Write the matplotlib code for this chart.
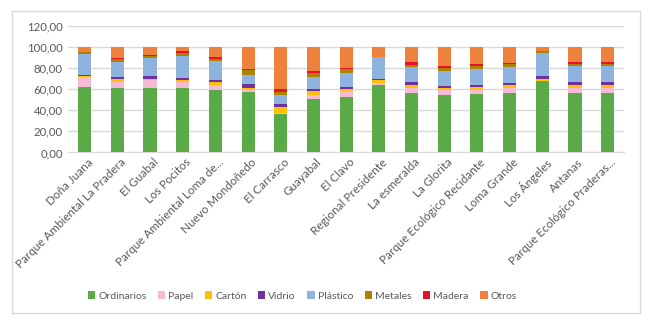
import numpy as np
import matplotlib
matplotlib.use("Agg")
import matplotlib.pyplot as plt
from matplotlib.patches import Rectangle

plt.rcParams['font.family'] = ['Lato', 'DejaVu Sans']

sitios = ['Doña Juana', 'Parque Ambiental La Pradera', 'El Guabal', 'Los Pocitos',
          'Parque Ambiental Loma de...', 'Nuevo Mondoñedo', 'El Carrasco', 'Guayabal',
          'El Clavo', 'Regional Presidente', 'La esmeralda', 'La Glorita',
          'Parque Ecológico Recidante', 'Loma Grande', 'Los Ángeles', 'Antanas',
          'Parque Ecológico Praderas...']

ordinarios = [62.0, 61.0, 61.2, 60.9, 59.3, 57.7, 36.2, 51.0, 52.9, 64.4, 56.7, 54.8, 55.4, 56.1, 67.6, 56.7, 56.7]
papel      = [9.5, 6.4, 8.0, 6.1, 5.1, 1.9, 1.6, 3.8, 5.1, 1.6, 4.8, 4.2, 4.2, 5.1, 0.7, 4.8, 4.8]
carton     = [1.0, 2.3, 1.0, 2.2, 2.3, 1.9, 5.8, 3.2, 2.6, 3.2, 2.6, 2.2, 2.6, 2.6, 1.9, 2.6, 2.6]
vidrio     = [1.2, 2.5, 2.6, 2.0, 2.5, 3.6, 2.2, 1.9, 1.9, 0.7, 2.6, 2.3, 2.2, 2.5, 2.2, 2.9, 2.9]
plastico   = [20.0, 14.0, 16.9, 20.5, 17.7, 8.9, 9.0, 12.2, 13.5, 20.8, 14.7, 14.4, 15.4, 14.8, 22.5, 15.4, 15.4]
metales    = [1.8, 2.3, 1.6, 2.9, 1.9, 4.8, 2.9, 3.5, 3.2, 0.3, 1.9, 2.9, 2.3, 2.6, 1.6, 1.9, 1.9]
madera     = [0.2, 1.2, 1.3, 1.9, 1.6, 0.2, 2.6, 1.6, 1.2, 0.0, 2.6, 1.6, 1.9, 1.6, 0.0, 1.6, 1.6]
otros      = [4.3, 10.3, 7.4, 3.5, 9.6, 21.0, 39.7, 22.8, 19.6, 9.0, 14.1, 17.6, 16.0, 14.7, 3.5, 14.1, 14.1]

series = [('Ordinarios', ordinarios, '#5aab47'),
          ('Papel', papel, '#f4bad6'),
          ('Cartón', carton, '#ffc000'),
          ('Vidrio', vidrio, '#7030a0'),
          ('Plástico', plastico, '#8eb3de'),
          ('Metales', metales, '#ad8200'),
          ('Madera', madera, '#e8102a'),
          ('Otros', otros, '#ee823d')]

txt = '#595959'

fig = plt.figure(figsize=(6.5, 3.25), dpi=100)
# chart area border
fig.patches.append(Rectangle((12 / 650, 1 - 313 / 325), 628 / 650, 302 / 325,
                             transform=fig.transFigure, fill=False,
                             edgecolor='#d9d9d9', lw=1))

ax = fig.add_axes([0.105, 0.531, 0.855, 0.388])
x = np.arange(len(sitios))
bottom = np.zeros(len(sitios))
for name, vals, col in series:
    ax.bar(x, vals, 0.4, bottom=bottom, color=col, label=name, zorder=3)
    bottom += np.array(vals)

ax.set_xlim(-0.5, len(sitios) - 0.5)
ax.set_ylim(0, 120)
ax.set_yticks(np.arange(0, 121, 20))
ax.set_yticklabels([f'{v:.2f}'.replace('.', ',') for v in np.arange(0, 121, 20)],
                   fontsize=8.2, color=txt)
ax.grid(axis='y', color='#d9d9d9', lw=1, zorder=0)
for s in ['top', 'right', 'left']:
    ax.spines[s].set_visible(False)
ax.spines['bottom'].set_color('#d9d9d9')
ax.tick_params(axis='y', length=0, pad=4)
ax.tick_params(axis='x', length=0, pad=3)
ax.set_xticks(x + 0.08)
ax.set_xticklabels(sitios, rotation=45, ha='right', rotation_mode='anchor',
                   fontsize=8.4, color=txt)

ax.legend(loc='center', bbox_to_anchor=(0.465, 1 - 296 / 325), bbox_transform=fig.transFigure,
          ncol=8, frameon=False, fontsize=7.5, labelcolor=txt,
          handlelength=0.7, handleheight=0.7, handletextpad=0.3, columnspacing=1.1)

fig.savefig('out.png', dpi=100)
